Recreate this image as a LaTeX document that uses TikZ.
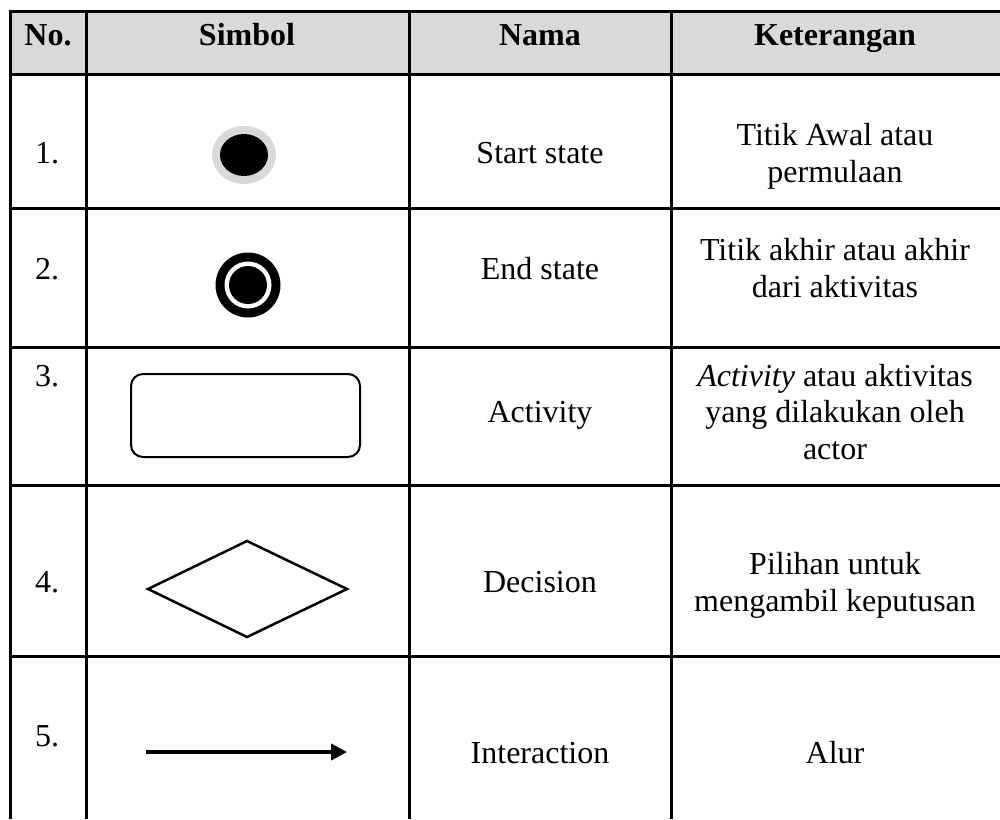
\documentclass[tikz,border=0pt]{standalone}
\usepackage{fontspec}
\setmainfont{Liberation Serif}
\usetikzlibrary{arrows.meta,shapes.geometric}
\definecolor{hdrgray}{HTML}{D9D9D9}
\begin{document}
\begin{tikzpicture}[x=1pt,y=-1pt,
  grid/.style={line width=3pt,black},
  txt/.style={font=\fontsize{32}{36.5}\selectfont,align=center,inner sep=0pt,anchor=base},
  hdr/.style={txt,font=\fontsize{32}{36.5}\selectfont\bfseries}]
\useasboundingbox (0,0) rectangle (1000,819);
% header background
\fill[hdrgray] (10,11) rectangle (1000,74);
% horizontal lines
\foreach \yy in {11,74,208,347,485,656}
  \draw[grid] (8.5,\yy) -- (1000,\yy);
% vertical lines
\foreach \xx in {10,86,409,671}
  \draw[grid] (\xx,11) -- (\xx,819);
% header
\node[hdr] (h1) at (48,45) {No.};
\node[hdr] (h2) at (247,45) {Simbol};
\node[hdr] (h3) at (540,45) {Nama};
\node[hdr] (h4) at (835,45) {Keterangan};
% numbers
\node[txt] (n1) at (47,163) {1.};
\node[txt] (n2) at (47,279) {2.};
\node[txt] (n3) at (47,386) {3.};
\node[txt] (n4) at (47,592) {4.};
\node[txt] (n5) at (47,746) {5.};
% names
\node[txt] (m1) at (540,163) {Start state};
\node[txt] (m2) at (540,279) {End state};
\node[txt] (m3) at (540,422) {Activity};
\node[txt] (m4) at (540,592) {Decision};
\node[txt] (m5) at (540,763) {Interaction};
% descriptions (anchor at baseline of last line)
\node[txt] (k1) at (835,182) {Titik Awal atau\\permulaan};
\node[txt] (k2) at (835,297) {Titik akhir atau akhir\\dari aktivitas};
\node[txt] (k3) at (835,459) {\textit{Activity} atau aktivitas\\yang dilakukan oleh\\actor};
\node[txt] (k4) at (835,611) {Pilihan untuk\\mengambil keputusan};
\node[txt] (k5) at (835,763) {Alur};
% start state
\node[ellipse,fill=hdrgray,minimum width=64pt,minimum height=58pt,inner sep=0pt] (s1) at (244,155) {};
\node[ellipse,fill=black,minimum width=48pt,minimum height=42pt,inner sep=0pt] (s1in) at (244,155) {};
% end state
\node[circle,fill=black,minimum size=65pt,inner sep=0pt] (s2) at (248,285) {};
\node[circle,fill=white,minimum size=47pt,inner sep=0pt] (s2ring) at (248,285) {};
\node[circle,fill=black,minimum size=38pt,inner sep=0pt] (s2in) at (248,285) {};
% activity
\draw[line width=2pt,rounded corners=12pt] (131,374) rectangle (360,457);
% decision
\draw[line width=2.5pt,line join=miter] (148,589) -- (247,541) -- (347,589) -- (247,637) -- cycle;
% interaction
\coordinate (a1) at (146,752);
\coordinate (a2) at (347,752);
\draw[line width=4pt,-{Triangle[length=16pt,width=16pt]}] (a1) -- (a2);
\end{tikzpicture}
\end{document}
